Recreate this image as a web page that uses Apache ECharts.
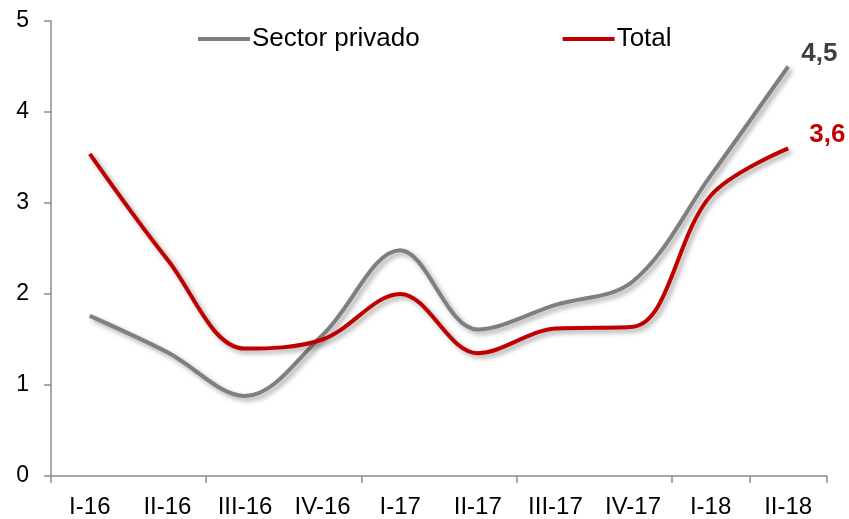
<!DOCTYPE html>
<html>
<head>
<meta charset="utf-8">
<script src="https://cdn.jsdelivr.net/npm/echarts@6/dist/echarts.min.js"></script>
<style>
    html, body { margin: 0; padding: 0; background: #fff; }
    #chart { width: 849px; height: 519px; }
</style>
</head>
<body>
<div id="chart"></div>
<script>
// trimestres
var categories = ['I-16', 'II-16', 'III-16', 'IV-16', 'I-17', 'II-17', 'III-17', 'IV-17', 'I-18', 'II-18'];
// Sector privado
var privado = [1.76, 1.36, 0.88, 1.55, 2.48, 1.61, 1.88, 2.14, 3.3, 4.5];
// Total
var total = [3.54, 2.38, 1.4, 1.5, 2.0, 1.35, 1.62, 1.64, 3.08, 3.6];

var chart = echarts.init(document.getElementById('chart'));

// etiqueta final con coma decimal
function endFmt(params) {
    return Number(params.value).toFixed(1).replace('.', ',');
}

var shadow = {
    shadowColor: 'rgba(0,0,0,0.35)',
    shadowBlur: 5,
    shadowOffsetX: 3,
    shadowOffsetY: 3
};

var option = {
    animation: false,
    textStyle: { fontFamily: 'Liberation Sans, Arial, sans-serif' },
    legend: {
        top: 21,
        left: 193,
        itemGap: 143,
        itemWidth: 52,
        itemHeight: 4,
        icon: 'rect',
        textStyle: { fontSize: 26, color: '#000', padding: [0, 0, 0, -3] },
        data: ['Sector privado', 'Total']
    },
    grid: {
        left: 51,
        right: 22,
        top: 21,
        bottom: 42
    },
    xAxis: {
        type: 'category',
        data: categories,
        boundaryGap: true,
        axisLine: { lineStyle: { color: '#8c8c8c', width: 1.5 } },
        axisTick: { show: true, interval: 1, length: 7, lineStyle: { color: '#8c8c8c', width: 1.5 } },
        axisLabel: { interval: 0, fontSize: 24, color: '#000', margin: 19 }
    },
    yAxis: {
        type: 'value',
        min: 0,
        max: 5,
        interval: 1,
        axisLine: { show: true, lineStyle: { color: '#8c8c8c', width: 1.5 } },
        axisTick: { show: true, length: 7, lineStyle: { color: '#8c8c8c', width: 1.5 } },
        axisLabel: { fontSize: 23, color: '#000', margin: 22 },
        splitLine: { show: false }
    },
    series: [
        {
            name: 'Sector privado',
            type: 'line',
            data: privado,
            smooth: 0.35,
            symbol: 'none',
            color: '#7f7f7f',
            lineStyle: Object.assign({ width: 4, color: '#7f7f7f' }, shadow),
            endLabel: {
                show: true,
                formatter: endFmt,
                offset: [5, -13],
                fontSize: 26,
                fontWeight: 'bold',
                color: '#404040'
            },
            z: 2
        },
        {
            name: 'Total',
            type: 'line',
            data: total,
            smooth: 0.35,
            symbol: 'none',
            color: '#c00000',
            lineStyle: Object.assign({ width: 4, color: '#c00000' }, shadow),
            endLabel: {
                show: true,
                formatter: endFmt,
                offset: [13, -14],
                fontSize: 26,
                fontWeight: 'bold',
                color: '#c00000'
            },
            z: 3
        }
    ]
};

chart.setOption(option);
</script>
</body>
</html>
